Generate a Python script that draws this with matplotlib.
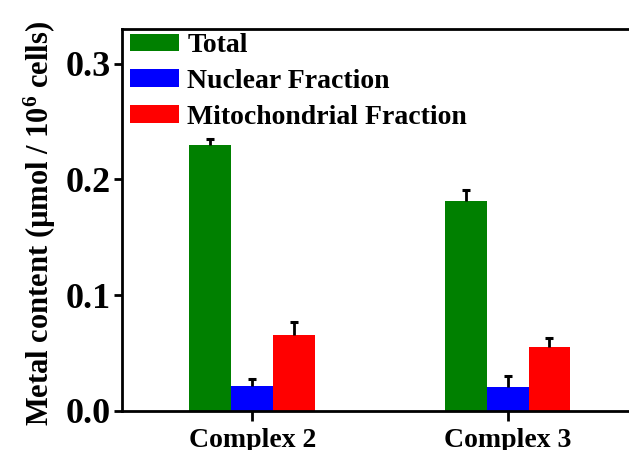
import numpy as np
import matplotlib
matplotlib.use('Agg')
import matplotlib.pyplot as plt

plt.rcParams['font.family'] = ['Liberation Serif', 'DejaVu Serif']
plt.rcParams['font.weight'] = 'bold'
plt.rcParams['mathtext.fontset'] = 'custom'
plt.rcParams['mathtext.rm'] = 'Liberation Serif:bold'
plt.rcParams['mathtext.bf'] = 'Liberation Serif:bold'
plt.rcParams['mathtext.it'] = 'Liberation Serif:bold'

groups = ['Complex 2', 'Complex 3']
series = ['Total', 'Nuclear Fraction', 'Mitochondrial Fraction']
total = [0.230, 0.181]
total_err = [0.005, 0.010]
nuclear = [0.022, 0.021]
nuclear_err = [0.006, 0.009]
mito = [0.066, 0.055]
mito_err = [0.011, 0.008]
colors = ['#008000', '#0000FF', '#FF0000']

fig = plt.figure(figsize=(6.29, 4.5), dpi=100)
ax = fig.add_axes([0.194, 0.0867, 0.820, 0.849])

x = np.arange(1, len(groups) + 1)
w = 0.164
vals = [total, nuclear, mito]
errs = [total_err, nuclear_err, mito_err]
for i in range(3):
    pos = x + (i - 1) * w
    v = np.array(vals[i])
    e = np.array(errs[i])
    ax.bar(pos, v, w, color=colors[i], label=series[i], zorder=2)
    # only the upper half of the error bar is shown
    ax.vlines(pos, v, v + e, color='black', linewidth=2, zorder=3)
    ax.plot(pos, v + e, linestyle='none', marker='_', markersize=6,
            markeredgewidth=2.2, color='black', zorder=3)

ax.set_xlim(0.49, 2.51)
ax.set_ylim(0, 0.33)
ax.set_xticks(x)
ax.set_xticklabels(groups, fontsize=20, fontweight='bold')
ax.set_yticks([0.0, 0.1, 0.2, 0.3])
ax.set_yticklabels(['0.0', '0.1', '0.2', '0.3'], fontsize=26, fontweight='bold')
ax.tick_params(axis='both', width=2, length=6, direction='out')
ax.tick_params(axis='y', pad=2)
ax.tick_params(axis='x', length=7, pad=5)
for s in ax.spines.values():
    s.set_linewidth(2)

ax.set_ylabel(r'Metal content (µmol / 10$^{6}$ cells)', fontsize=22, fontweight='bold')
ax.yaxis.set_label_coords(-0.125, 0.49)

ax.legend(loc='upper left', bbox_to_anchor=(0.0, 1.01), frameon=False, fontsize=20,
          handlelength=1.75, handleheight=0.6, labelspacing=0.38,
          handletextpad=0.3, borderaxespad=0.2, borderpad=0.1)

fig.savefig('out.png', dpi=100)
